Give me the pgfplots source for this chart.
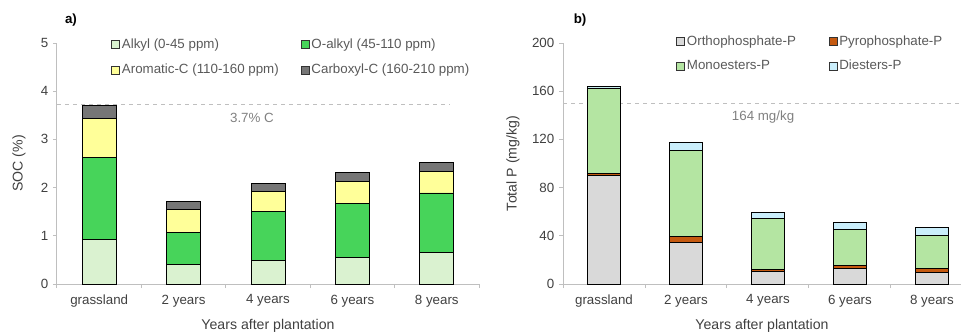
\documentclass[border=0pt]{standalone}
\usepackage{fontspec}
\setmainfont{Liberation Sans}
\usepackage{pgfplots}
\pgfplotsset{compat=1.18}
\definecolor{alkyl}{HTML}{DAF2D0}
\definecolor{oalkyl}{HTML}{47D45A}
\definecolor{arom}{HTML}{FFFF99}
\definecolor{carb}{HTML}{767676}
\definecolor{ortho}{HTML}{D9D9D9}
\definecolor{pyro}{HTML}{C55A11}
\definecolor{mono}{HTML}{B4E5A2}
\definecolor{dies}{HTML}{CAEEFB}
\definecolor{txt}{HTML}{404040}
\definecolor{legtxt}{HTML}{595959}
\definecolor{axgray}{HTML}{BFBFBF}
\definecolor{refgray}{HTML}{808080}
\pgfplotsset{
 mystyle/.style={
  scale only axis, ybar stacked, height=180.75pt, ymin=0, xmin=-0.5, clip=false,
  axis lines*=left, axis line style={draw=axgray, line width=0.75pt, -},
  xtick={0,...,4}, xticklabels={grassland,2 years,4 years,6 years,8 years},
  minor xtick={-0.5,0.5,...,4.5},
  major x tick style={draw=none},
  minor x tick style={draw=axgray, line width=0.75pt},
  y tick style={draw=axgray, line width=0.75pt},
  tick align=outside, major tick length=3pt, minor tick length=3pt,
  ticklabel style={font=\fontsize{10}{12}\selectfont, text=txt},
  xticklabel style={yshift=-1.5pt},
  /pgf/number format/assume math mode=true,
  label style={font=\fontsize{10.6}{12.5}\selectfont, text=txt},
  xlabel={Years after plantation},
  xlabel style={at={(axis description cs:0.5,-0.174)}, anchor=center},
  every axis plot/.append style={draw=black, line width=0.6pt},
  legend columns=2,
  legend style={draw=none, fill=none, inner sep=0pt, font=\fontsize{10}{12}\selectfont, text=legtxt, anchor=north west, cells={anchor=west}, nodes={inner xsep=1.5pt}},
  legend image code/.code={\draw[#1, draw=black!80, line width=0.5pt] (0pt,-3pt) rectangle (6pt,3pt);},
 }
}
\begin{document}
\begin{tikzpicture}
\useasboundingbox (0,0) rectangle (722.25pt,249.75pt);
\begin{axis}[mystyle, at={(42.75pt,36.75pt)}, anchor=south west, width=316.5pt,
  xmax=4.5, ymax=5, ytick={0,1,...,5}, bar width=25.5pt,
  ylabel={SOC (\%)}, ylabel style={at={(axis description cs:-0.09,0.5)}, anchor=center},
  legend style={at={(axis description cs:0.128,1.031)}, row sep=6.5pt, /tikz/column 2/.style={column sep=15pt}}]
\addplot[fill=alkyl] coordinates {(0,0.93) (1,0.41) (2,0.48) (3,0.55) (4,0.66)};
\addplot[fill=oalkyl] coordinates {(0,1.70) (1,0.66) (2,1.02) (3,1.12) (4,1.23)};
\addplot[fill=arom] coordinates {(0,0.81) (1,0.48) (2,0.42) (3,0.46) (4,0.45)};
\addplot[fill=carb] coordinates {(0,0.27) (1,0.16) (2,0.16) (3,0.19) (4,0.18)};
\legend{Alkyl (0-45 ppm), O-alkyl (45-110 ppm), Aromatic-C (110-160 ppm), Carboxyl-C (160-210 ppm)}
\draw[axgray, dashed, line width=0.6pt] (axis cs:-0.5,3.72) -- (axis cs:4.145,3.72);
\node[text=refgray, font=\fontsize{10}{12}\selectfont] at (axis cs:1.81,3.44) {3.7\% C};
\node[font=\bfseries\fontsize{10}{12}\selectfont] at (axis description cs:0.033,1.095) {a)};
\end{axis}
\begin{axis}[mystyle, at={(422.25pt,36.75pt)}, anchor=south west, width=298.5pt,
  xmax=4.354, ymax=200, ytick={0,40,...,200}, bar width=24.75pt,
  ylabel={Total P (mg/kg)}, ylabel style={at={(axis description cs:-0.126,0.5)}, anchor=center},
  legend style={at={(axis description cs:0.284,1.042)}, row sep=5.5pt, /tikz/column 2/.style={column sep=23pt}}]
\addplot[fill=ortho] coordinates {(0,90) (1,34.8) (2,10.5) (3,13.0) (4,9.7)};
\addplot[fill=pyro] coordinates {(0,1.7) (1,4.6) (2,1.7) (3,2.2) (4,3.0)};
\addplot[fill=mono] coordinates {(0,71) (1,71.5) (2,42.5) (3,30.1) (4,27.3)};
\addplot[fill=dies] coordinates {(0,1.5) (1,6.5) (2,4.7) (3,5.5) (4,7.0)};
\legend{Orthophosphate-P, Pyrophosphate-P, Monoesters-P, Diesters-P}
\draw[axgray, dashed, line width=0.6pt] (axis cs:-0.5,150) -- (axis cs:4.354,150);
\node[text=refgray, font=\fontsize{10}{12}\selectfont] at (axis cs:1.94,138.5) {164 mg/kg};
\node[font=\bfseries\fontsize{10}{12}\selectfont] at (axis description cs:0.043,1.095) {b)};
\end{axis}
\end{tikzpicture}
\end{document}
